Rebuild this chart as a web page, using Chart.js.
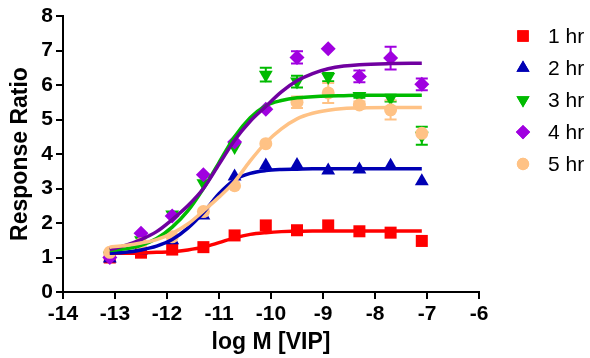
<!DOCTYPE html>
<html>
<head>
<meta charset="utf-8">
<script src="https://cdn.jsdelivr.net/npm/chart.js@4.4.1/dist/chart.umd.min.js"></script>
<style>
html,body{margin:0;padding:0;background:#fff;}
#wrap{width:590px;height:358px;position:relative;}
</style>
</head>
<body>
<div id="wrap"><canvas id="c" width="590" height="358"></canvas></div>
<script>
// ---- data ----
const logDose = [-13.1, -12.5, -11.9, -11.3, -10.7, -10.1, -9.5, -8.9, -8.3, -7.7, -7.1];
const seriesNames = ['1 hr', '2 hr', '3 hr', '4 hr', '5 hr'];
const hr1 = [1.00, 1.14, 1.23, 1.30, 1.64, 1.93, 1.79, 1.93, 1.76, 1.72, 1.48];
const hr2 = [0.97, 1.20, 1.50, 2.22, 3.35, 3.67, 3.68, 3.52, 3.55, 3.66, 3.21];
const hr3 = [1.05, 1.50, 2.25, 3.15, 4.20, 6.30, 6.10, 6.23, 5.68, 5.62, 4.53];
const hr4 = [1.00, 1.70, 2.20, 3.40, 4.35, 5.30, 6.80, 7.05, 6.25, 6.78, 6.02];
const hr5 = [1.15, 1.40, 1.60, 2.33, 3.08, 4.30, 5.50, 5.77, 5.42, 5.28, 4.60];
// error bars (half-widths), 0 = none visible
const err1 = [0, 0, 0, 0, 0, 0, 0, 0, 0, 0, 0];
const err2 = [0, 0, 0, 0, 0, 0, 0, 0, 0, 0, 0];
const err3 = [0, 0, 0, 0, 0, 0.20, 0.17, 0.12, 0.05, 0.10, 0.26];
const err4 = [0, 0, 0, 0, 0, 0, 0.18, 0, 0.17, 0.33, 0.17];
const err5 = [0, 0, 0, 0, 0, 0, 0.17, 0.29, 0.10, 0.28, 0];
// fitted curves
const curveX = [-13.1, -12.8, -12.5, -12.2, -11.9, -11.6, -11.3, -11.0, -10.7, -10.4, -10.1, -9.8, -9.5, -9.2, -8.9, -8.6, -8.3, -7.7, -7.1];
const fit1 = [1.12, 1.12, 1.13, 1.15, 1.17, 1.22, 1.30, 1.43, 1.57, 1.67, 1.72, 1.75, 1.76, 1.77, 1.77, 1.77, 1.77, 1.77, 1.77];
const fit2 = [1.12, 1.15, 1.22, 1.33, 1.52, 1.85, 2.30, 2.85, 3.25, 3.44, 3.52, 3.55, 3.56, 3.57, 3.57, 3.57, 3.57, 3.57, 3.57];
const fit3 = [1.20, 1.25, 1.35, 1.55, 1.88, 2.35, 3.00, 3.75, 4.50, 5.05, 5.40, 5.55, 5.63, 5.66, 5.68, 5.69, 5.70, 5.70, 5.70];
const fit4 = [1.23, 1.35, 1.52, 1.75, 2.10, 2.50, 3.00, 3.70, 4.40, 4.95, 5.38, 5.80, 6.12, 6.33, 6.47, 6.55, 6.59, 6.62, 6.63];
const fit5 = [1.30, 1.35, 1.42, 1.52, 1.70, 1.97, 2.35, 2.75, 3.20, 3.80, 4.33, 4.73, 5.02, 5.18, 5.27, 5.32, 5.34, 5.35, 5.35];
const xTicks = [-14, -13, -12, -11, -10, -9, -8, -7, -6];
const yTicks = [0, 1, 2, 3, 4, 5, 6, 7, 8];

// ---- styles ----
const markerColors = ['#FF0000', '#0000B4', '#00BB00', '#A000E0', '#FFC285'];
const curveColors  = ['#FF0000', '#0000B4', '#00BB00', '#7000A0', '#FFC285'];
const styles = ['rect', 'triangle', 'triangle', 'rectRot', 'circle'];
const rotations = [0, 0, 180, 0, 0];
const radii = [8.5, 8, 8, 7.5, 6.5];

const allVals = [hr1, hr2, hr3, hr4, hr5];
const allErr = [err1, err2, err3, err4, err5];
const allFit = [fit1, fit2, fit3, fit4, fit5];

const datasets = [];
for (let i = 0; i < 5; i++) {
  datasets.push({
    label: seriesNames[i],
    type: 'scatter',
    data: logDose.map((x, j) => ({x: x, y: allVals[i][j]})),
    errs: allErr[i],
    isPoints: true,
    pointStyle: styles[i],
    rotation: rotations[i],
    pointRadius: radii[i],
    pointHoverRadius: radii[i],
    backgroundColor: markerColors[i],
    borderColor: markerColors[i],
    borderWidth: 0,
    showLine: false,
    order: 10 - i
  });
}
for (let i = 0; i < 5; i++) {
  datasets.push({
    label: seriesNames[i] + ' fit',
    type: 'line',
    data: curveX.map((x, j) => ({x: x, y: allFit[i][j]})),
    borderColor: curveColors[i],
    borderWidth: 3.5,
    pointRadius: 0,
    fill: false,
    cubicInterpolationMode: 'monotone',
    order: 5 - i
  });
}

const errorBarPlugin = {
  id: 'errorBars',
  beforeDatasetsDraw(chart) {
    const ctx = chart.ctx;
    const xs = chart.scales.x, ys = chart.scales.y;
    chart.data.datasets.forEach((ds) => {
      if (!ds.isPoints) return;
      ctx.save();
      ctx.strokeStyle = ds.borderColor;
      ctx.lineWidth = 2;
      ds.data.forEach((p, j) => {
        const e = ds.errs[j];
        if (!e) return;
        const px = xs.getPixelForValue(p.x);
        const y1 = ys.getPixelForValue(p.y + e);
        const y2 = ys.getPixelForValue(p.y - e);
        ctx.beginPath();
        ctx.moveTo(px, y1); ctx.lineTo(px, y2);
        ctx.moveTo(px - 6, y1); ctx.lineTo(px + 6, y1);
        ctx.moveTo(px - 6, y2); ctx.lineTo(px + 6, y2);
        ctx.stroke();
      });
      ctx.restore();
    });
  }
};

const legendPlugin = {
  id: 'customLegend',
  afterDraw(chart) {
    const ctx = chart.ctx;
    ctx.save();
    for (let i = 0; i < 5; i++) {
      const y = 36 + i * 32;
      ctx.fillStyle = markerColors[i];
      ctx.strokeStyle = markerColors[i];
      Chart.helpers.drawPoint(ctx, {pointStyle: styles[i], rotation: rotations[i], radius: radii[i] * 0.95, borderWidth: 0}, 523, y);
      ctx.fill();
      ctx.fillStyle = '#000';
      ctx.font = '21px "Liberation Sans", Arial, sans-serif';
      ctx.textBaseline = 'middle';
      ctx.textAlign = 'left';
      ctx.fillText(seriesNames[i], 548, y + 1);
    }
    ctx.restore();
  }
};

new Chart(document.getElementById('c'), {
  data: {datasets: datasets},
  options: {
    responsive: false,
    animation: false,
    layout: {padding: {top: 16, right: 111, bottom: 0, left: 0}},
    plugins: {legend: {display: false}, tooltip: {enabled: false}},
    scales: {
      x: {
        type: 'linear', min: -14, max: -6,
        afterFit(s) { s.height = 66; },
        afterBuildTicks(s) { s.ticks = xTicks.map(v => ({value: v})); },
        ticks: {color: '#000', font: {family: '"Liberation Sans", Arial', size: 21, weight: 'bold'}, padding: 3, autoSkip: false, maxRotation: 0},
        grid: {display: true, drawOnChartArea: false, drawTicks: true, tickLength: 7, color: '#000', lineWidth: 2},
        border: {display: true, color: '#000', width: 2},
        title: {display: true, text: 'log M [VIP]', color: '#000', font: {family: '"Liberation Sans", Arial', size: 23, weight: 'bold'}, padding: {top: 0, bottom: 2}}
      },
      y: {
        type: 'linear', min: 0, max: 8,
        afterFit(s) { s.width = 63; },
        afterBuildTicks(s) { s.ticks = yTicks.map(v => ({value: v})); },
        ticks: {color: '#000', font: {family: '"Liberation Sans", Arial', size: 21, weight: 'bold'}, padding: 3},
        grid: {display: true, drawOnChartArea: false, drawTicks: true, tickLength: 7, color: '#000', lineWidth: 2},
        border: {display: true, color: '#000', width: 2},
        title: {display: true, text: 'Response Ratio', color: '#000', font: {family: '"Liberation Sans", Arial', size: 23, weight: 'bold'}, padding: {top: 7, bottom: 0}}
      }
    }
  },
  plugins: [errorBarPlugin, legendPlugin]
});
</script>
</body>
</html>
